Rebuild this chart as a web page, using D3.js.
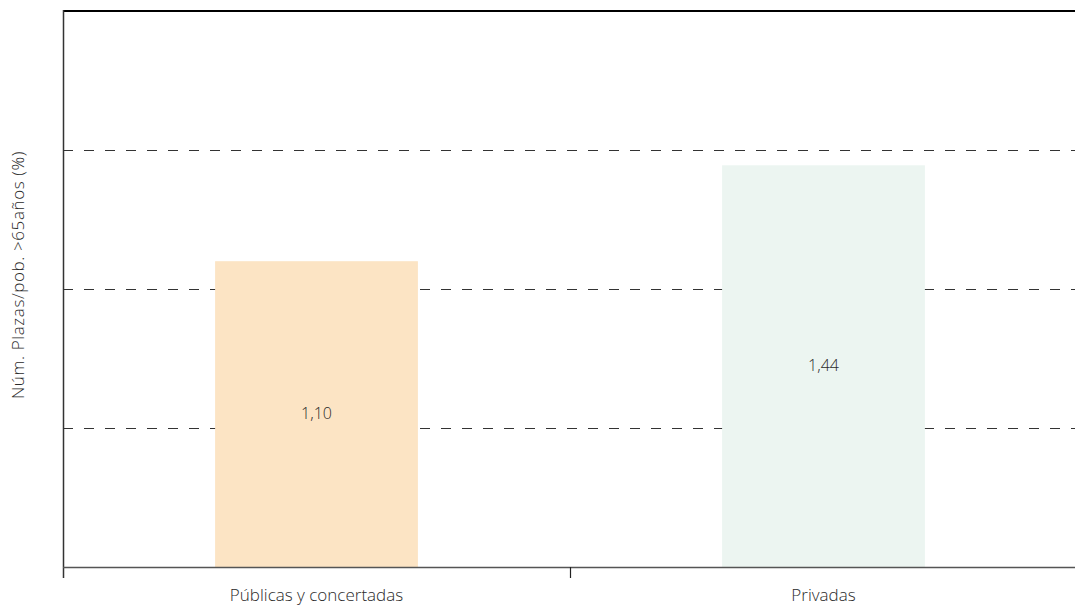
<!DOCTYPE html>
<html><head><meta charset="utf-8">
<script src="https://cdn.jsdelivr.net/npm/d3@7"></script>
<style>body{margin:0;background:#fff}svg text{font-family:"Open Sans","Noto Sans",sans-serif;font-weight:300;fill:#2a2a2a}</style>
</head><body><svg id="c" width="1075" height="608"></svg>
<script>
const categories = ["Públicas y concertadas", "Privadas"];
const values = [1.10, 1.445];
const valueLabels = ["1,10", "1,44"];
const colors = ["#FCE4C4", "#ECF5F1"];
const gridTicks = [0.5, 1.0, 1.5];
const yTitle = "Núm. Plazas/pob. >65años (%)";

const svg = d3.select("#c");
const L = 63, R = 1077, T = 11, B = 567;
const x = d3.scaleBand().domain(categories).range([L, R]).padding(0);
const y = d3.scaleLinear().domain([0, 2]).range([B, T]);

// grid
svg.append("g").selectAll("line").data(gridTicks).join("line")
  .attr("x1", L).attr("x2", R).attr("y1", d => y(d)).attr("y2", d => y(d))
  .attr("stroke", "#333").attr("stroke-width", 1).attr("stroke-dasharray", "10,11")
  .attr("shape-rendering", "crispEdges");

// bars
const bw = x.bandwidth() * 0.4;
svg.append("g").selectAll("rect").data(categories).join("rect")
  .attr("x", d => x(d) + x.bandwidth() / 2 - bw / 2)
  .attr("width", bw)
  .attr("y", (d, i) => y(values[i]))
  .attr("height", (d, i) => y(0) - y(values[i]))
  .attr("fill", (d, i) => colors[i]);

// value labels
svg.append("g").selectAll("text").data(categories).join("text")
  .attr("x", d => x(d) + x.bandwidth() / 2)
  .attr("y", (d, i) => (y(values[i]) + y(0)) / 2)
  .attr("dy", "0.3em")
  .attr("text-anchor", "middle")
  .attr("font-size", 16)
  .text((d, i) => valueLabels[i]);

// frame top
svg.append("line").attr("x1", L).attr("x2", 1075).attr("y1", T).attr("y2", T)
  .attr("stroke", "#000").attr("stroke-width", 2);
// left axis line
svg.append("line").attr("x1", L + 0.5).attr("x2", L + 0.5).attr("y1", T - 1).attr("y2", B + 11)
  .attr("stroke", "#333").attr("stroke-width", 1.5);
// bottom axis
const gx = svg.append("g").attr("transform", `translate(0,${B})`);
gx.append("line").attr("x1", L).attr("x2", 1075).attr("y1", 0.5).attr("y2", 0.5)
  .attr("stroke", "#555").attr("stroke-width", 1.5);
gx.selectAll("line.sep").data(categories.slice(1)).join("line").attr("class", "sep")
  .attr("x1", d => x(d) + 0.5).attr("x2", d => x(d) + 0.5).attr("y1", 0).attr("y2", 11)
  .attr("stroke", "#222").attr("stroke-width", 1.2);
gx.selectAll("text.cat").data(categories).join("text").attr("class", "cat")
  .attr("x", d => x(d) + x.bandwidth() / 2)
  .attr("y", 34)
  .attr("text-anchor", "middle")
  .attr("font-size", 17)
  .text(d => d);

// y title
svg.append("text")
  .attr("transform", "translate(24,275) rotate(-90)")
  .attr("text-anchor", "middle")
  .attr("font-size", 17)
  .attr("letter-spacing", "0.6")
  .text(yTitle);
</script></body></html>
